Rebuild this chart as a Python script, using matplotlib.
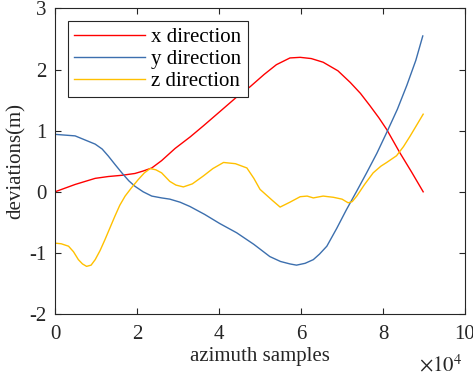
import numpy as np
import matplotlib
matplotlib.use("Agg")
import matplotlib.pyplot as plt
from matplotlib.ticker import FuncFormatter

plt.rcParams['font.family'] = ['Liberation Serif', 'DejaVu Serif']
plt.rcParams['mathtext.fontset'] = 'stix'
plt.rcParams['axes.unicode_minus'] = False

# values, samples in units of 1e4
x_dir_s = [0, 0.49, 0.98, 1.3, 1.63, 1.95, 2.15, 2.36, 2.6, 2.93, 3.3, 3.62, 4.0, 4.43, 4.76,
           5.1, 5.4, 5.73, 5.98, 6.25, 6.54, 6.9, 7.2, 7.45, 7.68, 7.9, 8.09, 8.41, 8.7, 8.98]
x_dir = [0, 0.12, 0.22, 0.25, 0.27, 0.30, 0.34, 0.39, 0.51, 0.71, 0.9, 1.08, 1.30, 1.55, 1.72,
         1.92, 2.08, 2.19, 2.2, 2.18, 2.12, 1.98, 1.79, 1.61, 1.41, 1.21, 1.02, 0.64, 0.32, 0.0]

y_dir_s = [0, 0.49, 0.98, 1.15, 1.30, 1.46, 1.63, 1.8, 1.95, 2.15, 2.36, 2.6, 2.8, 3.05, 3.29,
           3.65, 4.02, 4.43, 4.85, 5.24, 5.5, 5.73, 5.89, 6.1, 6.3, 6.45, 6.63, 6.87, 7.11, 7.35,
           7.6, 7.85, 8.09, 8.35, 8.58, 8.8, 8.97]
y_dir = [0.94, 0.915, 0.78, 0.70, 0.585, 0.45, 0.31, 0.18, 0.09, 0.0, -0.07, -0.1, -0.12, -0.17, -0.24,
         -0.37, -0.52, -0.67, -0.86, -1.06, -1.14, -1.18, -1.2, -1.17, -1.11, -1.02, -0.89, -0.6, -0.29, 0.0,
         0.31, 0.63, 0.97, 1.35, 1.74, 2.15, 2.55]

z_dir_s = [0, 0.15, 0.33, 0.45, 0.57, 0.67, 0.77, 0.88, 0.98, 1.1, 1.22, 1.34, 1.46, 1.58, 1.71,
           1.87, 2.03, 2.18, 2.32, 2.46, 2.6, 2.8, 2.95, 3.13, 3.35, 3.62, 3.85, 4.11, 4.4, 4.68,
           4.85, 5.0, 5.15, 5.3, 5.49, 5.73, 5.98, 6.15, 6.3, 6.54, 6.79, 7.0, 7.15, 7.25, 7.36,
           7.55, 7.76, 7.95, 8.09, 8.33, 8.5, 8.66, 8.82, 8.98]
z_dir = [-0.84, -0.85, -0.89, -0.98, -1.11, -1.18, -1.22, -1.2, -1.11, -0.96, -0.78, -0.59, -0.40, -0.22, -0.07,
         0.07, 0.2, 0.31, 0.38, 0.36, 0.31, 0.17, 0.11, 0.08, 0.13, 0.26, 0.38, 0.48, 0.46, 0.39,
         0.22, 0.04, -0.05, -0.14, -0.25, -0.17, -0.08, -0.07, -0.1, -0.07, -0.09, -0.12, -0.18, -0.16, -0.07,
         0.12, 0.31, 0.42, 0.48, 0.59, 0.74, 0.91, 1.09, 1.27]

labels = ['x direction', 'y direction', 'z direction']
colors = ['#ff0000', '#3c6fae', '#ffc000']

fig = plt.figure(figsize=(4.73, 3.77), dpi=100)
ax = fig.add_axes([0.1163, 0.167, 0.8668, 0.8106])

ax.plot(np.array(x_dir_s) * 1e4, x_dir, color=colors[0], lw=1.0, label=labels[0])
ax.plot(np.array(y_dir_s) * 1e4, y_dir, color=colors[1], lw=1.0, label=labels[1])
ax.plot(np.array(z_dir_s) * 1e4, z_dir, color=colors[2], lw=1.0, label=labels[2])

ax.set_xlim(0, 1e5)
ax.set_ylim(-2, 3)
ax.set_xticks(np.arange(0, 100001, 20000))
ax.set_yticks(np.arange(-2, 4, 1))
ax.xaxis.set_major_formatter(FuncFormatter(lambda v, p: '%g' % (v / 1e4)))

for sp in ax.spines.values():
    sp.set_color('#262626')
    sp.set_linewidth(0.8)
ax.tick_params(direction='in', top=True, right=True, length=4, width=0.8,
               colors='#262626', labelsize=15, labelcolor='#262626')
ax.tick_params(axis='x', pad=8)
ax.tick_params(axis='y', pad=6)

ax.set_xlabel('azimuth samples', fontsize=15, color='#262626', labelpad=2)
ax.set_ylabel('deviations(m)', fontsize=15, color='#262626', labelpad=3)
fig.text(462 / 473, 1 - 371 / 377, r'$\times10^{4}$', fontsize=15, color='#262626',
         ha='right', va='baseline')

leg = ax.legend(loc='upper left', bbox_to_anchor=(0.032, 0.959), borderaxespad=0,
                fontsize=15, handlelength=3.4, handletextpad=0.3, labelspacing=0.12,
                fancybox=False, framealpha=1, edgecolor='#262626', borderpad=0.3)
leg.get_frame().set_linewidth(0.8)

fig.savefig('out.png', dpi=100)
